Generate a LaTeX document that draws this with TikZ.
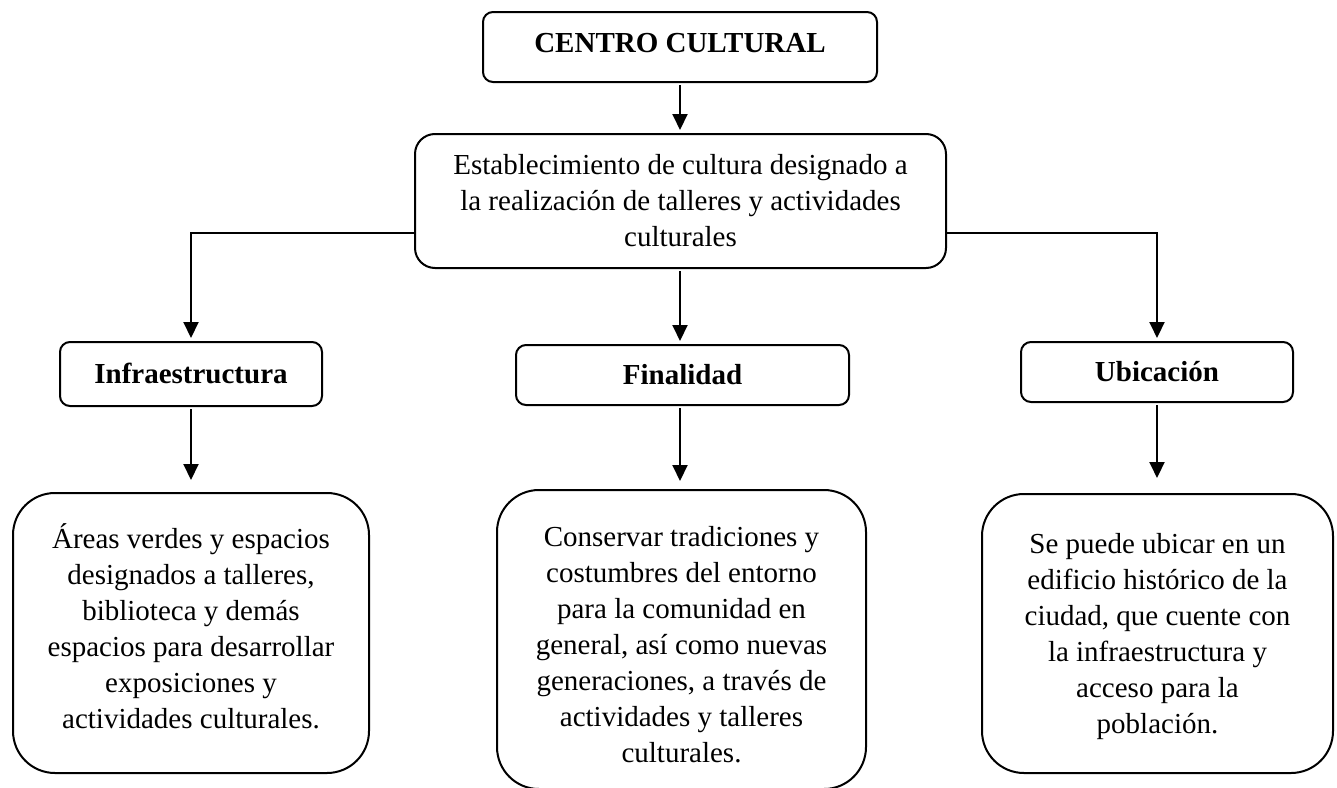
\documentclass[tikz,border=0pt]{standalone}
\usepackage{fontspec}
\setmainfont{Liberation Serif}
\usetikzlibrary{arrows.meta}
\begin{document}
\begin{tikzpicture}[x=0.5pt,y=-0.5pt,
  box/.style={draw=black, line width=1pt, align=center, inner sep=0pt, font=\fontsize{14.5}{18}\selectfont},
  head/.style={box, rounded corners=5pt, font=\fontsize{14.5}{18}\selectfont\bfseries, text height=11.5pt, text depth=2pt},
  midbox/.style={box, rounded corners=10pt},
  big/.style={box, rounded corners=21pt},
  txt/.style={align=center, inner sep=0pt, font=\fontsize{14.5}{18}\selectfont},
  arr/.style={line width=1pt, -{Triangle[length=8pt,width=7.5pt]}, shorten <=1pt}
]
\fill[white] (0,0) rectangle (1337,787);
\useasboundingbox (0,0) rectangle (1337,787);

\node[head, text height=9.6pt, text depth=4.5pt, minimum width=197pt, minimum height=35pt] (top) at (680,47) {CENTRO CULTURAL};
\node[midbox, minimum width=265.5pt, minimum height=67pt] (est) at (680.5,201)
  {Establecimiento de cultura designado a\\la realización de talleres y actividades\\culturales};

\node[head, minimum width=131pt, minimum height=32pt] (infra) at (191,374) {Infraestructura};
\node[head, minimum width=166.5pt, minimum height=30pt] (fin) at (682.5,375) {Finalidad};
\node[head, minimum width=136pt, minimum height=30pt] (ubi) at (1157,372) {Ubicación};

\node[big, minimum width=178pt, minimum height=140pt] (b1) at (191,633) {};
\node[txt, yshift=3.5pt] (b1t) at (b1.center)
  {Áreas verdes y espacios\\designados a talleres,\\biblioteca y demás\\espacios para desarrollar\\exposiciones y\\actividades culturales.};
\node[big, minimum width=184.5pt, minimum height=149.5pt] (b2) at (681.5,639.5) {};
\node[txt, yshift=-2.5pt] (b2t) at (b2.center)
  {Conservar tradiciones y\\costumbres del entorno\\para la comunidad en\\general, así como nuevas\\generaciones, a través de\\actividades y talleres\\culturales.};
\node[big, minimum width=175.5pt, minimum height=139.5pt] (b3) at (1157.5,633.5) {};
\node[txt, yshift=-1.5pt] (b3t) at (b3.center)
  {Se puede ubicar en un\\edificio histórico de la\\ciudad, que cuente con\\la infraestructura y\\acceso para la\\población.};

\coordinate (jy) at (0,233);
\draw[arr, shorten >=1.5pt] (top.south) -- (top.south |- est.north);
\draw[arr, shorten <=0pt, shorten >=1.5pt] (est.west |- jy) -| (infra.north);
\draw[arr, shorten <=0pt, shorten >=1.5pt] (est.east |- jy) -| (ubi.north);
\draw[arr, shorten >=1.5pt] (est.south -| top.south) -- (fin.north -| top.south);
\draw[arr, shorten >=6pt] (infra.south) -- (infra.south |- b1.north);
\draw[arr, shorten >=4pt] (fin.south -| top.south) -- (b2.north -| top.south);
\draw[arr, shorten >=7.5pt] (ubi.south) -- (ubi.south |- b3.north);
\end{tikzpicture}
\end{document}
